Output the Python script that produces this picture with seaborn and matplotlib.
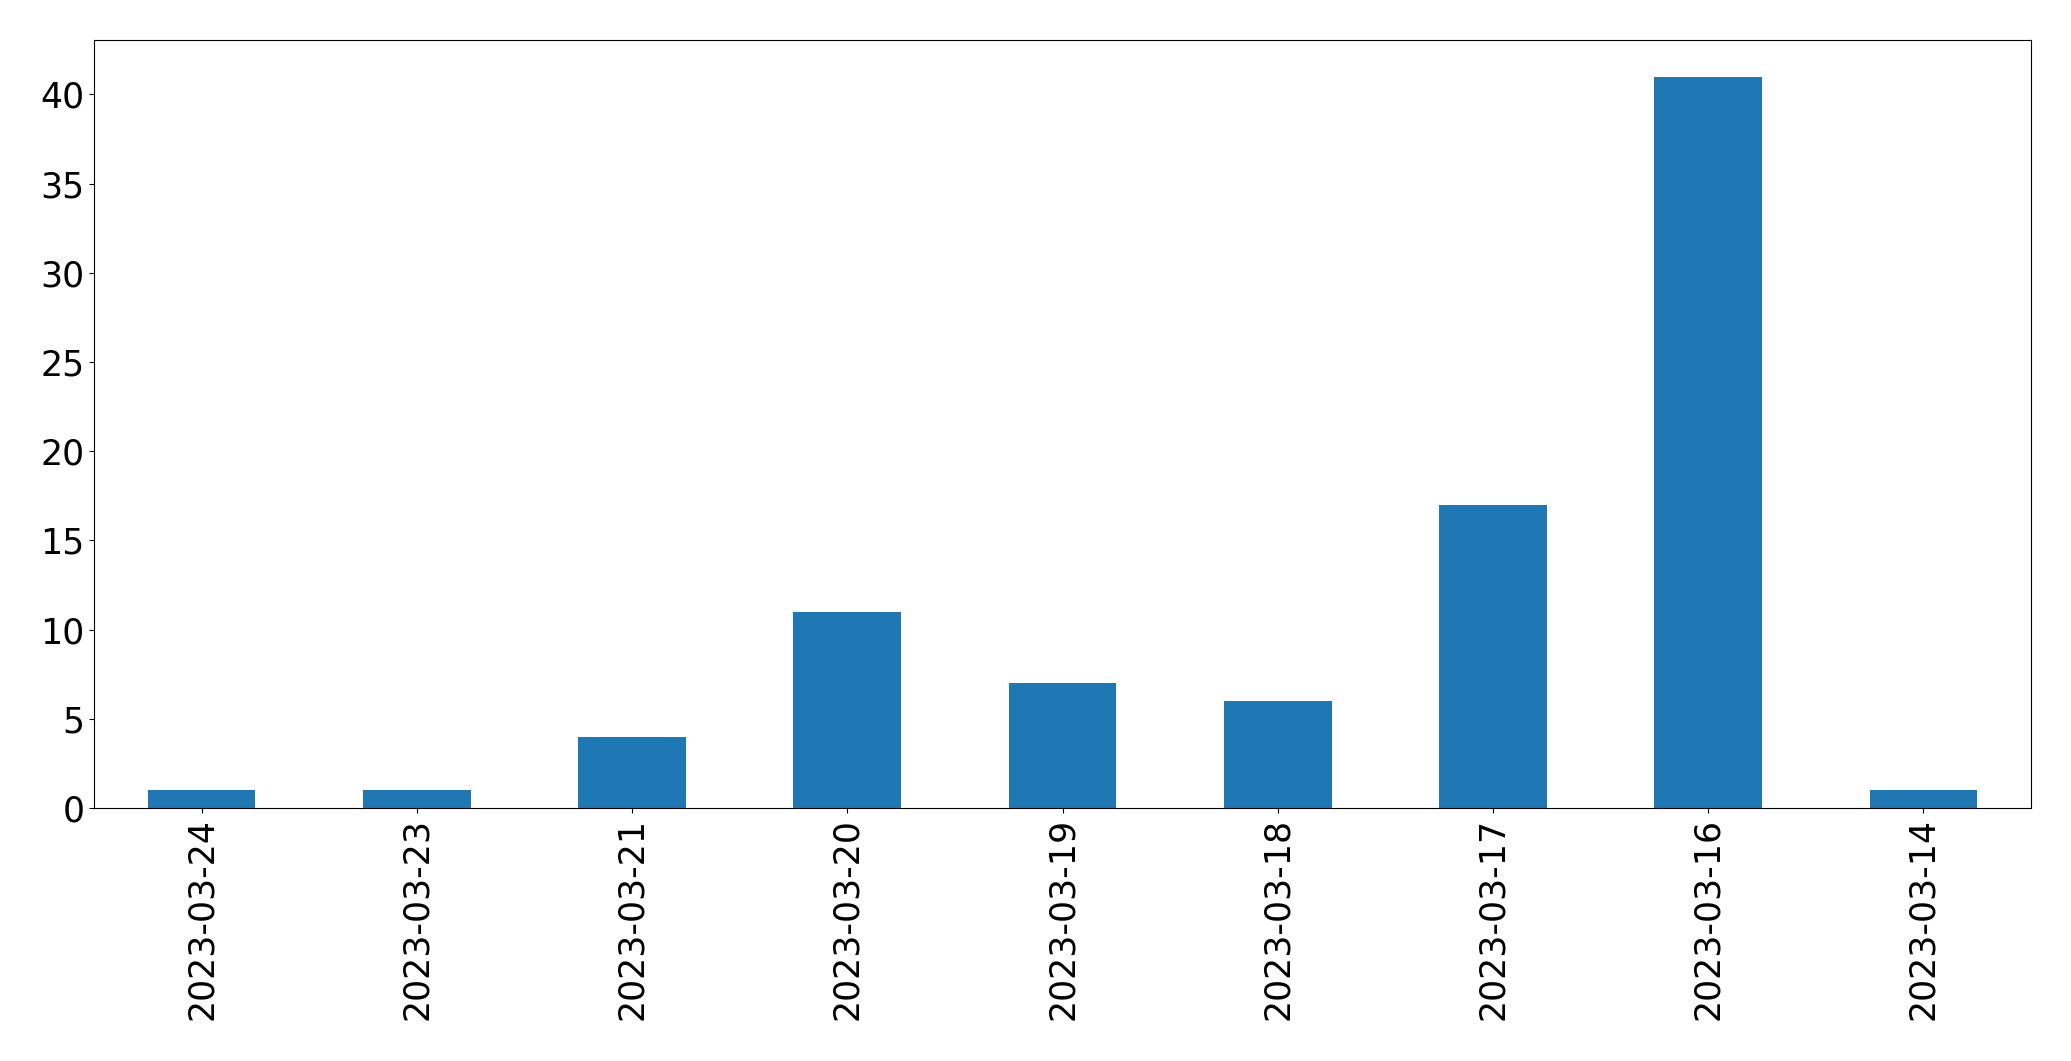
import pandas as pd
import matplotlib.pyplot as plt
import seaborn as sns

# Datos
fechas = ["2023-03-24", "2023-03-23", "2023-03-21", "2023-03-20", "2023-03-19",
          "2023-03-18", "2023-03-17", "2023-03-16", "2023-03-14"]
conteos = [1, 1, 4, 11, 7, 6, 17, 41, 1]

df = pd.DataFrame({"fecha": fechas, "conteo": conteos})

fig, ax = plt.subplots(figsize=(20.71, 10.61), dpi=100)
sns.barplot(data=df, x="fecha", y="conteo", order=fechas, color="#1f77b4",
            saturation=1, width=0.5, ax=ax)

ax.set_xlim(-0.5, len(fechas) - 0.5)
ax.set_ylim(0, max(conteos) * 1.05)
ax.set_xlabel("")
ax.set_ylabel("")
ax.tick_params(axis="x", labelsize=25, rotation=90)
ax.tick_params(axis="y", labelsize=25)
for s in ax.spines.values():
    s.set_color("black")

plt.subplots_adjust(left=0.0454, right=0.9807, top=0.9623, bottom=0.2385)
plt.savefig("out.png")
plt.close()
